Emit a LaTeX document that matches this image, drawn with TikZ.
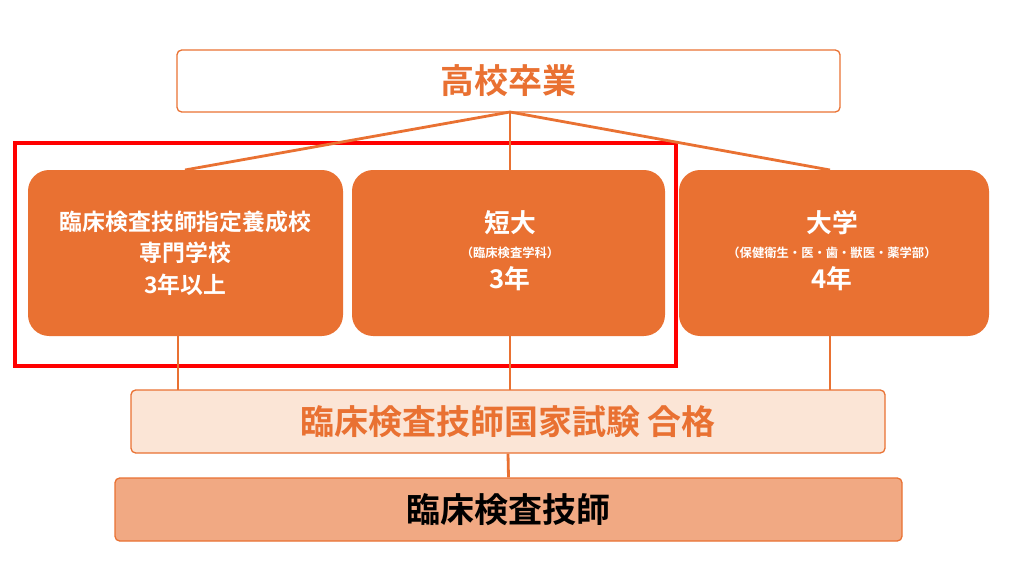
\documentclass[tikz,border=0pt]{standalone}
\usepackage{fontspec}
\setmainfont{Noto Sans CJK JP}
\newfontfamily\jpb{Noto Sans CJK JP Bold}
\definecolor{org}{HTML}{E97132}
\definecolor{peach}{HTML}{FBE5D6}
\definecolor{salmon}{HTML}{F1A983}
\begin{document}
\begin{tikzpicture}[x=0.03cm,y=-0.03cm]
\useasboundingbox (0,0) rectangle (1024,576);
\tikzset{
 ln/.style={draw=org,line width=2.4pt},
 obox/.style={fill=org,draw=none,rounded corners=18pt,text=white,align=center,font=\jpb\fontsize{19.5}{27}\selectfont}
}
\node[draw=org,line width=1.1pt,rounded corners=4pt,minimum width=663*0.03cm,minimum height=62*0.03cm,text=org,font=\jpb\fontsize{29}{32}\selectfont] (top) at (508.5,81) {高校卒業};
\node[obox,minimum width=315*0.03cm,minimum height=166*0.03cm] (a) at (185.5,253) {臨床検査技師指定養成校\\専門学校\\3年以上};
\node[obox,minimum width=313*0.03cm,minimum height=166*0.03cm] (b) at (508.5,253) {};
\node[obox,minimum width=310*0.03cm,minimum height=166*0.03cm] (c) at (834,253) {};
\node[text=white,align=center,font=\jpb\fontsize{22}{27}\selectfont] (bt) at (510,251) {短大\\[-6pt]{\fontsize{10.5}{13}\selectfont（臨床検査学科）}\\3年};
\node[text=white,align=center,font=\jpb\fontsize{22}{27}\selectfont] (ct) at (832,251) {大学\\[-6pt]{\fontsize{10.5}{13}\selectfont（保健衛生・医・歯・獣医・薬学部）}\\4年};
\draw[red,line width=3pt] (15,143) rectangle (676,366);
\node[draw=org,line width=1.1pt,fill=peach,rounded corners=4pt,minimum width=754*0.03cm,minimum height=63*0.03cm,text=org,font=\jpb\fontsize{29}{32}\selectfont] (exam) at (508,421.5) {臨床検査技師国家試験 合格};
\node[draw=org,line width=1.1pt,fill=salmon,rounded corners=4pt,minimum width=787*0.03cm,minimum height=63*0.03cm,text=black,font=\jpb\fontsize{29}{32}\selectfont] (job) at (508.5,509.5) {臨床検査技師};
\coordinate (tb) at (510,112);
\draw[ln] (tb) -- (185,170);
\draw[ln] (tb) -- (510,170);
\draw[ln] (tb) -- (830,170);
\draw[ln] (178,336) -- (178,390);
\draw[ln] (510,336) -- (510,390);
\draw[ln] (830,336) -- (830,390);
\draw[ln] (exam.south) -- (job.north);
\end{tikzpicture}
\end{document}
